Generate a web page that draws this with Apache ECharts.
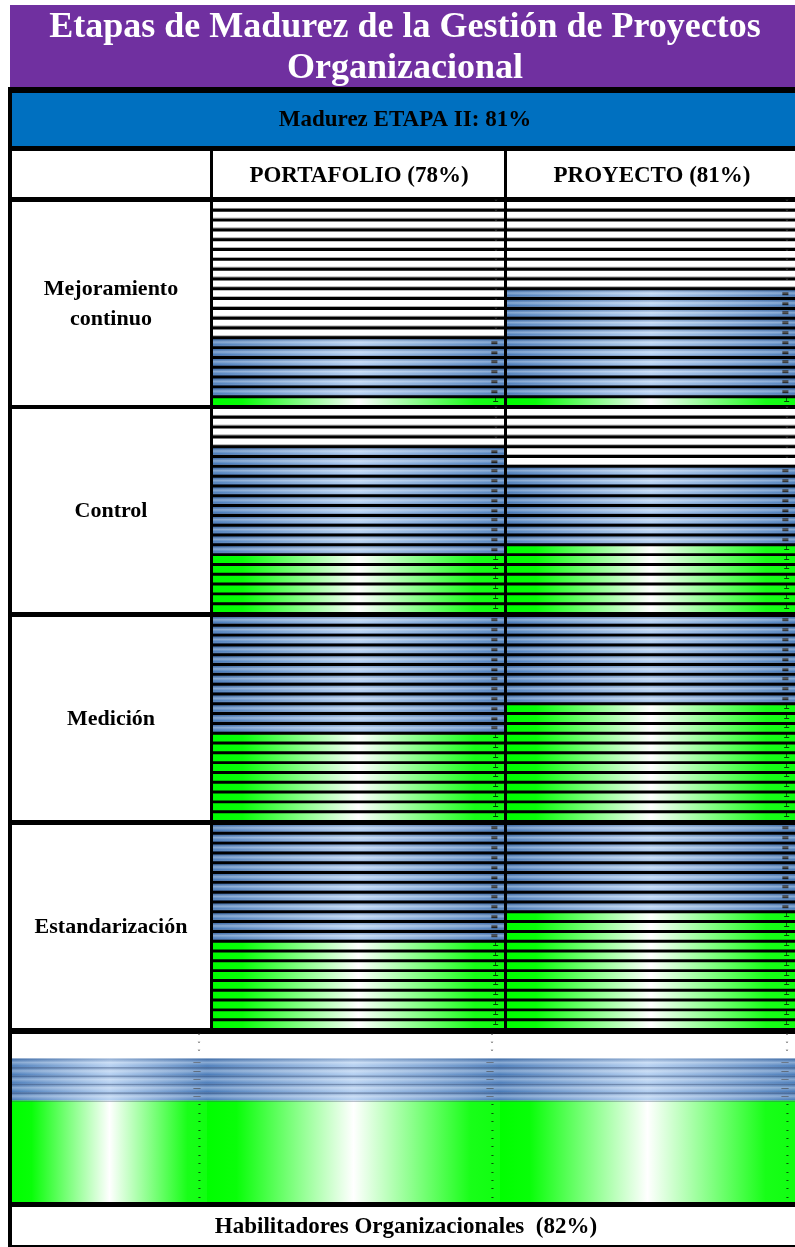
<!DOCTYPE html>
<html><head><meta charset="utf-8">
<script src="https://cdn.jsdelivr.net/npm/echarts@6/dist/echarts.min.js"></script>
<style>html,body{margin:0;padding:0;background:#fff}#c{width:795px;height:1247px}</style>
</head><body><div id="c"></div>
<script>
// ---- data ----
const titleText = 'Etapas de Madurez de la Gestión de Proyectos\nOrganizacional';
const stageText = 'Madurez ETAPA II: 81%';
const columns = ['PORTAFOLIO (78%)', 'PROYECTO (81%)'];
const sections = ['Mejoramiento\ncontinuo', 'Control', 'Medición', 'Estandarización'];
// rows per section, top to bottom: white (not reached), blue (partial), green (reached)
const portafolioWhite = [14, 4, 0, 0];
const portafolioBlue  = [6, 11, 12, 12];
const portafolioGreen = [1, 6, 9, 9];
const proyectoWhite = [9, 6, 0, 0];
const proyectoBlue  = [11, 8, 9, 9];
const proyectoGreen = [1, 7, 12, 12];
const habilitadoresLabel = 'Habilitadores Organizacionales  (82%)';
const habilitadoresRows = [3, 5, 12]; // white, blue, green

// ---- styles ----
const LG = echarts.graphic.LinearGradient;
const FONT = '"Liberation Serif","Times New Roman",serif';
const greenFill = new LG(0,0,1,0,[{offset:0,color:'#00ff00'},{offset:0.1,color:'#08ff08'},{offset:0.5,color:'#ffffff'},{offset:0.9,color:'#18ff18'},{offset:1,color:'#10ff10'}]);
const blueFill = new LG(0,0,1,0,[{offset:0,color:'#4a7cba'},{offset:0.5,color:'#b3cff1'},{offset:1,color:'#4a7cba'}]);
const blueSheen = new LG(0,0,0,1,[{offset:0,color:'rgba(30,60,110,0.25)'},{offset:0.4,color:'rgba(255,255,255,0.35)'},{offset:0.8,color:'rgba(255,255,255,0)'},{offset:1,color:'rgba(20,40,80,0.55)'}]);
const whiteFill = new LG(0,0,0,1,[{offset:0,color:'#ffffff'},{offset:0.8,color:'#ffffff'},{offset:0.86,color:'#c4c4c4'},{offset:1,color:'#9a9a9a'}]);

const grids = [], xAxes = [], yAxes = [], series = [];
function levelsOf(w, b, g) {
  return [].concat(Array(w).fill('w'), Array(b).fill('b'), Array(g).fill('g'));
}
function addGrid(left, top, width, height, levels, gap, barW, plainWhite, marks) {
  const gi = grids.length;
  grids.push({left: left, top: top, width: width, height: height});
  xAxes.push({type:'value', gridIndex: gi, min: 0, max: 1, show: false});
  yAxes.push({type:'category', gridIndex: gi, data: levels.map((l, i) => i), inverse: true, show: false});
  const defs = [
    {lv:'w', color: plainWhite ? '#ffffff' : whiteFill, mark: marks[0], mc:'#444'},
    {lv:'b', color: blueFill, mark: marks[1], mc:'#000'},
    {lv:'g', color: greenFill, mark: marks[2], mc:'#000'}
  ];
  const sizing = barW ? {barWidth: barW} : {barCategoryGap: gap};
  defs.forEach(d => {
    series.push(Object.assign({
      type:'bar', xAxisIndex: gi, yAxisIndex: gi, barGap:'-100%',
      silent: true, z: 2,
      itemStyle: {color: d.color},
      label: {show: true, position: 'insideRight', distance: 6, formatter: () => d.mark,
              fontSize: 8, color: d.mc, fontFamily: 'DejaVu Sans'},
      data: levels.map(l => l === d.lv ? 1 : '-')
    }, sizing));
  });
  series.push(Object.assign({
    type:'bar', xAxisIndex: gi, yAxisIndex: gi, barGap:'-100%',
    silent: true, z: 3, itemStyle: {color: blueSheen},
    data: levels.map(l => l === 'b' ? 1 : '-')
  }, sizing));
}

// layout
const secTop = [200.5, 407.5, 615.5, 823.5], secH = 206;
const colLeft = [213, 507], colW = [291, 292];
const colData = [[portafolioWhite, portafolioBlue, portafolioGreen], [proyectoWhite, proyectoBlue, proyectoGreen]];
for (let c = 0; c < 2; c++) {
  for (let s = 0; s < sections.length; s++) {
    const lv = levelsOf(colData[c][0][s], colData[c][1][s], colData[c][2][s]);
    addGrid(colLeft[c], secTop[s], colW[c], secH, lv, '30%', null, false, ['˘', '▬', '┴']);
  }
}
const habLevels = levelsOf(habilitadoresRows[0], habilitadoresRows[1], habilitadoresRows[2]);
const habLeft = [12, 207, 500], habW = [195, 293, 297];
for (let i = 0; i < 3; i++) addGrid(habLeft[i], 1034, habW[i], 168, habLevels, null, 9.6, true, ['ˇ', '—', '-']);

// background cells and text
const g = [];
g.push({type:'rect', shape:{x:8, y:87, width:790, height:1162}, style:{fill:'#000'}, z:0});
g.push({type:'rect', shape:{x:10, y:5, width:788, height:82}, style:{fill:'#7030a0'}, z:0});
g.push({type:'rect', shape:{x:12, y:93, width:786, height:53}, style:{fill:'#0070c0'}, z:1});
g.push({type:'rect', shape:{x:12, y:151, width:198, height:46}, style:{fill:'#fff'}, z:1});
g.push({type:'rect', shape:{x:213, y:151, width:291, height:46}, style:{fill:'#fff'}, z:1});
g.push({type:'rect', shape:{x:507, y:151, width:291, height:46}, style:{fill:'#fff'}, z:1});
g.push({type:'rect', shape:{x:12, y:1207, width:786, height:38}, style:{fill:'#fff'}, z:1});
sections.forEach((name, s) => {
  g.push({type:'rect', shape:{x:12, y:secTop[s] + 1.5, width:198, height:203}, style:{fill:'#fff'}, z:1});
  g.push({type:'text', x:111, y:secTop[s] + 104, z:5,
    style:{text:name, fill:'#000', font:'bold 22px ' + FONT, align:'center', verticalAlign:'middle', lineHeight:30}});
});
g.push({type:'text', x:405, y:48, z:5, style:{text:titleText, fill:'#fff', font:'bold 36px ' + FONT, align:'center', verticalAlign:'middle', lineHeight:41}});
g.push({type:'text', x:405, y:120, z:5, style:{text:stageText, fill:'#000', font:'bold 23px ' + FONT, align:'center', verticalAlign:'middle'}});
g.push({type:'text', x:359, y:176, z:5, style:{text:columns[0], fill:'#000', font:'bold 23px ' + FONT, align:'center', verticalAlign:'middle'}});
g.push({type:'text', x:652, y:176, z:5, style:{text:columns[1], fill:'#000', font:'bold 23px ' + FONT, align:'center', verticalAlign:'middle'}});
g.push({type:'text', x:406, y:1227, z:5, style:{text:habilitadoresLabel, fill:'#000', font:'bold 23px ' + FONT, align:'center', verticalAlign:'middle'}});

const chart = echarts.init(document.getElementById('c'), null, {renderer:'canvas'});
chart.setOption({
  animation: false,
  backgroundColor: '#fff',
  graphic: {elements: g},
  grid: grids, xAxis: xAxes, yAxis: yAxes, series: series
});
</script>
</body></html>
